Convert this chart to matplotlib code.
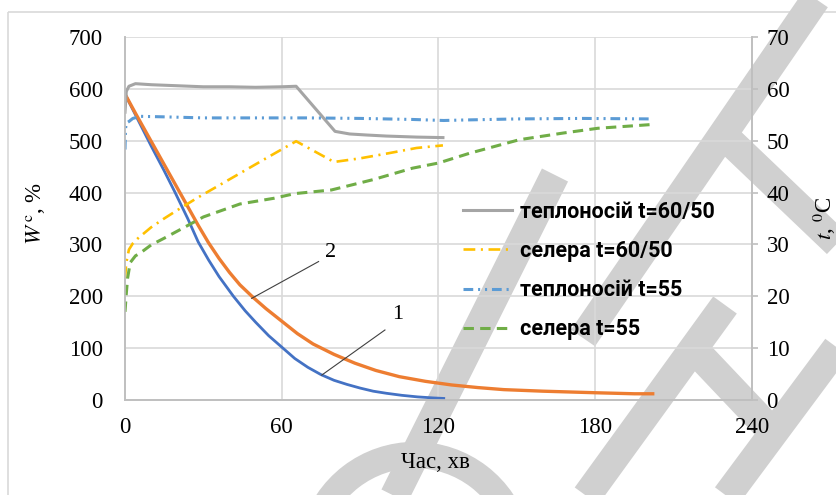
import matplotlib
matplotlib.use("Agg")
import matplotlib.pyplot as plt
from matplotlib.patches import Rectangle, Arc

plt.rcParams["font.family"] = ["Liberation Serif", "DejaVu Serif"]
plt.rcParams["mathtext.fontset"] = "stix"
plt.rcParams["lines.scale_dashes"] = False

# Moisture content W^c, % (left axis)
t_w1 = [0, 5, 10, 15, 19, 24, 28, 32, 36, 41.5, 46, 50, 55, 60, 65, 70, 75,
        80, 85, 90, 95, 100, 106, 112, 118, 122]
w1 = [590, 540, 490, 442, 402, 350, 305, 270, 238, 200, 172, 150, 124, 102,
      80, 63, 49, 38, 30, 23, 17, 13, 9, 6, 4, 3]

t_w2 = [0, 4, 8, 12, 16, 20, 24, 28, 32, 36, 40, 44, 49, 54, 60, 66, 72, 80,
        88, 96, 105, 115, 125, 135, 145, 160, 180, 195, 202]
w2 = [590, 553, 517, 481, 445, 409, 373, 337, 303, 273, 246, 222, 198, 176,
      152, 128, 108, 88, 71, 57, 45, 36, 29, 24, 20, 17, 14, 12, 12]

# Temperatures, deg C (right axis)
t_heat_6050 = [0, 0.5, 1.5, 4, 10, 20, 30, 40, 50, 60, 65.5, 80.4, 86, 92.5,
               100, 111.6, 121.7]
temp_heat_6050 = [55.5, 59.5, 60.5, 61.0, 60.8, 60.6, 60.4, 60.4, 60.3, 60.4,
                  60.5, 51.8, 51.3, 51.1, 50.9, 50.7, 50.6]

t_salt_6050 = [0, 0.5, 1.5, 3, 5, 10, 15, 20, 27.4, 35, 45, 55, 65.5, 80, 90,
               100, 111.6, 121.7]
temp_salt_6050 = [23.5, 26.5, 29.0, 30.2, 31.2, 33.3, 35.0, 36.6, 38.9, 41.1,
                  44.0, 46.9, 49.9, 45.9, 46.6, 47.5, 48.6, 49.1]

t_heat_55 = [0, 0.2, 0.5, 1.5, 3, 6, 15, 30, 50, 70, 90, 110, 122, 130, 150,
             175, 201.5]
temp_heat_55 = [48.3, 52.3, 53.4, 53.7, 54.3, 54.7, 54.6, 54.4, 54.4, 54.4,
                54.3, 54.1, 53.9, 54.0, 54.2, 54.3, 54.2]

t_salt_55 = [0, 0.5, 1, 2, 4, 6, 10, 15, 22, 30, 44, 57, 65, 79, 95, 110, 120,
             132, 151, 168, 181, 201]
temp_salt_55 = [17.0, 20.5, 23.5, 26.5, 27.8, 28.4, 29.9, 31.2, 33.1, 35.3,
                37.8, 38.9, 39.8, 40.5, 42.5, 44.7, 45.7, 47.6, 50.2, 51.5,
                52.4, 53.1]

x_ticks = [0, 60, 120, 180, 240]
w_ticks = [0, 100, 200, 300, 400, 500, 600, 700]
temp_ticks = [0, 10, 20, 30, 40, 50, 60, 70]

legend_labels = ["теплоносій t=60/50", "селера t=60/50",
                 "теплоносій t=55", "селера t=55"]

W, H = 837, 495
fig = plt.figure(figsize=(W / 100, H / 100), dpi=100, facecolor="white")

# background layer in pixel units: outer frame and faint watermark strokes
bg = fig.add_axes([0, 0, 1, 1], zorder=-5)
bg.set_xlim(0, W)
bg.set_ylim(H, 0)
bg.axis("off")
bg.add_patch(Rectangle((8, 12), 1000, 1000, fill=False, ec="#d9d9d9", lw=1.2))
wm_c = "#d0d0d0"
wm = dict(color=wm_c, lw=21, solid_capstyle="butt")
bg.plot([822, 583], [-10, 338], **wm)
bg.plot([716, 870], [128, 275], **wm)
bg.plot([555, 390], [175, 505], **wm)
bg.plot([725, 580], [305, 505], **wm)
bg.plot([850, 720], [330, 505], **wm)
bg.plot([690, 780], [345, 440], **wm)
bg.add_patch(Arc((415, 560), 210, 210, theta1=195, theta2=345,
                 color=wm_c, lw=19))

ax = fig.add_axes([125 / W, 1 - 400 / H, 627 / W, 363 / H])
ax.set_facecolor("none")
ax2 = ax.twinx()

grid_c = "#d9d9d9"
for v in w_ticks[1:]:
    ax.axhline(v, color=grid_c, lw=1.2, zorder=0)
for v in x_ticks[1:-1]:
    ax.axvline(v, color=grid_c, lw=1.2, zorder=0)

ax.plot(t_w1, w1, color="#4472c4", lw=2.0, zorder=3)
ax.plot(t_w2, w2, color="#ed7d31", lw=2.4, zorder=3)

ax2.plot(t_heat_6050, temp_heat_6050, color="#a5a5a5", lw=2.2,
         label=legend_labels[0])
ax2.plot(t_salt_6050, temp_salt_6050, color="#ffc000", lw=1.9,
         dashes=(8.5, 4, 1.5, 4), label=legend_labels[1])
ax2.plot(t_heat_55, temp_heat_55, color="#5b9bd5", lw=2.2,
         dashes=(7, 3.5, 1.5, 3.5, 1.5, 3.5), label=legend_labels[2])
ax2.plot(t_salt_55, temp_salt_55, color="#70ad47", lw=2.2,
         dashes=(7.5, 4.5), label=legend_labels[3])

ax.set_xlim(0, 240)
ax.set_ylim(0, 700)
ax2.set_ylim(0, 70)
ax.set_xticks(x_ticks)
ax.set_yticks(w_ticks)
ax2.set_yticks(temp_ticks)

for a in (ax, ax2):
    for s in a.spines.values():
        s.set_color("#bfbfbf")
        s.set_linewidth(1.2)
    a.spines["top"].set_visible(False)

ax.tick_params(axis="y", length=0, pad=16, labelsize=16.5)
ax.tick_params(axis="x", length=0, pad=12, labelsize=16.5)
ax2.tick_params(axis="y", length=4.5, width=1.2, color="#bfbfbf", pad=6,
                labelsize=16.5)

# curve numbers with leader lines
ax.plot([48.5, 74.1], [196, 267], color="#404040", lw=0.8, zorder=4)
ax.text(78.5, 284, "2", fontsize=16, ha="center", va="center")
ax.plot([75.3, 99.5], [48, 135], color="#404040", lw=0.8, zorder=4)
ax.text(104.5, 164, "1", fontsize=16, ha="center", va="center")

leg = ax2.legend(loc="upper left", bbox_to_anchor=(329 / 627, 1 - 155 / 363),
                 frameon=False, handlelength=2.3, handletextpad=0.35,
                 labelspacing=0.8, borderaxespad=0,
                 prop=dict(family="Roboto", weight="bold", size=15.5))

fig.text(435 / W, 1 - 462 / H, "Час, хв", fontsize=16.5, ha="center",
         va="center")
fig.text(36 / W, 1 - 213 / H, r"$\mathit{W}^{\,\mathrm{c}}$, %", fontsize=16.5,
         rotation=90, ha="center", va="center")
fig.text(824 / W, 1 - 218 / H, r"$\mathit{t}$, $^{0}$C", fontsize=16.5,
         rotation=90, ha="center", va="center")

fig.savefig("out.png", dpi=100, facecolor="white")
